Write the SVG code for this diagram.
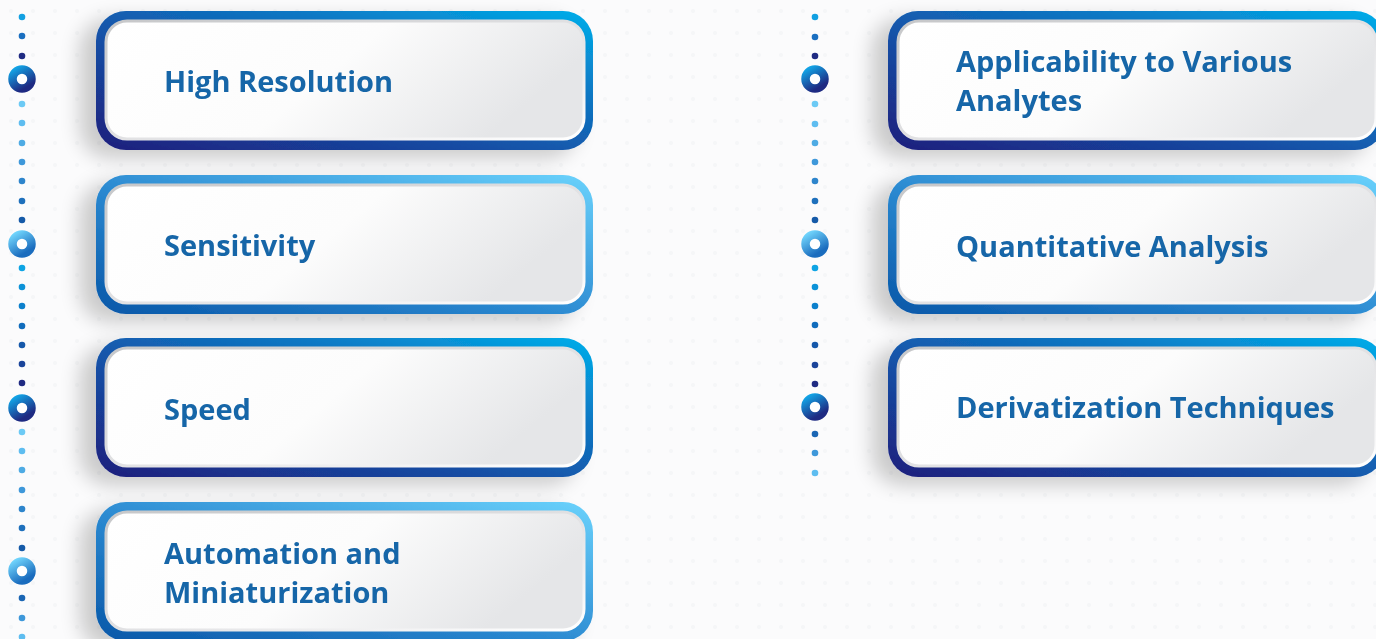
<svg xmlns="http://www.w3.org/2000/svg" width="1376" height="639" viewBox="0 0 1376 639">
  <defs>
    <style>
      .label { font-family: "Open Sans", "Liberation Sans", sans-serif; font-weight: 700; font-size: 29px; fill: #1766a8; }
      .panel { fill: url(#panelFill); stroke: url(#rimStroke); stroke-width: 3; }
      .dot { stroke: none; }
      .ring { fill: #ffffff; stroke-width: 8.5; }
    </style>
    <pattern id="grid" width="22" height="22" patternUnits="userSpaceOnUse">
      <circle cx="11" cy="11" r="2" fill="#f5f6f7"/>
    </pattern>
    <linearGradient id="frameDeep" x1="0" y1="1" x2="1" y2="0">
      <stop offset="0" stop-color="#1c1f7c"/>
      <stop offset="0.35" stop-color="#1848a0"/>
      <stop offset="0.7" stop-color="#0d78c4"/>
      <stop offset="1" stop-color="#00aeea"/>
    </linearGradient>
    <linearGradient id="frameLight" x1="0" y1="1" x2="1" y2="0">
      <stop offset="0" stop-color="#0857a8"/>
      <stop offset="0.45" stop-color="#2a88d0"/>
      <stop offset="1" stop-color="#6ad2fc"/>
    </linearGradient>
    <linearGradient id="panelFill" x1="0" y1="0" x2="1" y2="0.3">
      <stop offset="0" stop-color="#ffffff"/>
      <stop offset="0.55" stop-color="#fcfcfc"/>
      <stop offset="1" stop-color="#e5e6e8"/>
    </linearGradient>
    <linearGradient id="rimStroke" x1="0" y1="0" x2="1" y2="1">
      <stop offset="0" stop-color="#c6c7c9"/>
      <stop offset="0.6" stop-color="#e6e6e8"/>
      <stop offset="1" stop-color="#ffffff"/>
    </linearGradient>
    <linearGradient id="ringDeep" x1="0" y1="0" x2="0.6" y2="1">
      <stop offset="0" stop-color="#12a4e6"/>
      <stop offset="1" stop-color="#1e2a82"/>
    </linearGradient>
    <linearGradient id="ringLight" x1="0" y1="0" x2="0.6" y2="1">
      <stop offset="0" stop-color="#70d4fc"/>
      <stop offset="1" stop-color="#1a6cbe"/>
    </linearGradient>
    <filter id="shade" x="-10%" y="-30%" width="120%" height="160%">
      <feGaussianBlur in="SourceAlpha" stdDeviation="10"/>
      <feOffset dx="-16" dy="8" result="b"/>
      <feComponentTransfer>
        <feFuncA type="linear" slope="0.2"/>
      </feComponentTransfer>
      <feMerge>
        <feMergeNode/>
        <feMergeNode in="SourceGraphic"/>
      </feMerge>
    </filter>
  </defs>

  <!-- background -->
  <rect width="1376" height="639" fill="#fbfbfc"/>
  <rect width="1376" height="639" fill="url(#grid)"/>

  <!-- dotted timelines with rings -->
  <g id="connectors">
    <g id="timeline-left">
      <circle class="dot" cx="22" cy="17" r="3.3" fill="#12a0e2"/>
      <circle class="dot" cx="22" cy="36" r="3.3" fill="#1a6fc0"/>
      <circle class="dot" cx="22" cy="56" r="3.3" fill="#1f2a82"/>
      <circle class="ring" cx="22" cy="79" r="9.5" stroke="url(#ringDeep)"/>
      <circle class="dot" cx="22" cy="104" r="3.3" fill="#6ccaf5"/>
      <circle class="dot" cx="22" cy="123" r="3.3" fill="#5ebdf0"/>
      <circle class="dot" cx="22" cy="143" r="3.3" fill="#4eabe4"/>
      <circle class="dot" cx="22" cy="162" r="3.3" fill="#3e98da"/>
      <circle class="dot" cx="22" cy="181" r="3.3" fill="#2e85cc"/>
      <circle class="dot" cx="22" cy="201" r="3.3" fill="#1e70bc"/>
      <circle class="dot" cx="22" cy="220" r="3.3" fill="#155aa8"/>
      <circle class="ring" cx="22" cy="244" r="9.5" stroke="url(#ringLight)"/>
      <circle class="dot" cx="22" cy="268" r="3.3" fill="#0ea4e4"/>
      <circle class="dot" cx="22" cy="287" r="3.3" fill="#0c92d8"/>
      <circle class="dot" cx="22" cy="306" r="3.3" fill="#0c80cc"/>
      <circle class="dot" cx="22" cy="326" r="3.3" fill="#106cbc"/>
      <circle class="dot" cx="22" cy="345" r="3.3" fill="#1558aa"/>
      <circle class="dot" cx="22" cy="364" r="3.3" fill="#1a449a"/>
      <circle class="dot" cx="22" cy="383" r="3.3" fill="#1f2a82"/>
      <circle class="ring" cx="22" cy="408" r="9.5" stroke="url(#ringDeep)"/>
      <circle class="dot" cx="22" cy="432" r="3.3" fill="#6ccaf5"/>
      <circle class="dot" cx="22" cy="451" r="3.3" fill="#5ebdf0"/>
      <circle class="dot" cx="22" cy="470" r="3.3" fill="#4eabe4"/>
      <circle class="dot" cx="22" cy="490" r="3.3" fill="#3e98da"/>
      <circle class="dot" cx="22" cy="509" r="3.3" fill="#2e85cc"/>
      <circle class="dot" cx="22" cy="528" r="3.3" fill="#1e70bc"/>
      <circle class="dot" cx="22" cy="548" r="3.3" fill="#155aa8"/>
      <circle class="ring" cx="22" cy="571" r="9.5" stroke="url(#ringLight)"/>
      <circle class="dot" cx="22" cy="598" r="3.3" fill="#1a66b4"/>
      <circle class="dot" cx="22" cy="618" r="3.3" fill="#3e98da"/>
      <circle class="dot" cx="22" cy="637" r="3.3" fill="#5ebdf0"/>
    </g>
    <g id="timeline-right">
      <circle class="dot" cx="815" cy="17" r="3.3" fill="#12a0e2"/>
      <circle class="dot" cx="815" cy="37" r="3.3" fill="#1a6fc0"/>
      <circle class="dot" cx="815" cy="56" r="3.3" fill="#1f2a82"/>
      <circle class="ring" cx="815" cy="79" r="9.5" stroke="url(#ringDeep)"/>
      <circle class="dot" cx="815" cy="104" r="3.3" fill="#6ccaf5"/>
      <circle class="dot" cx="815" cy="124" r="3.3" fill="#5ebdf0"/>
      <circle class="dot" cx="815" cy="143" r="3.3" fill="#4eabe4"/>
      <circle class="dot" cx="815" cy="162" r="3.3" fill="#3e98da"/>
      <circle class="dot" cx="815" cy="181" r="3.3" fill="#2e85cc"/>
      <circle class="dot" cx="815" cy="201" r="3.3" fill="#1e70bc"/>
      <circle class="dot" cx="815" cy="220" r="3.3" fill="#155aa8"/>
      <circle class="ring" cx="815" cy="244" r="9.5" stroke="url(#ringLight)"/>
      <circle class="dot" cx="815" cy="268" r="3.3" fill="#0ea4e4"/>
      <circle class="dot" cx="815" cy="287" r="3.3" fill="#0c92d8"/>
      <circle class="dot" cx="815" cy="306" r="3.3" fill="#0c80cc"/>
      <circle class="dot" cx="815" cy="325" r="3.3" fill="#106cbc"/>
      <circle class="dot" cx="815" cy="345" r="3.3" fill="#1558aa"/>
      <circle class="dot" cx="815" cy="365" r="3.3" fill="#1a449a"/>
      <circle class="dot" cx="815" cy="384" r="3.3" fill="#1f2a82"/>
      <circle class="ring" cx="815" cy="407" r="9.5" stroke="url(#ringDeep)"/>
      <circle class="dot" cx="815" cy="434" r="3.3" fill="#1a66b4"/>
      <circle class="dot" cx="815" cy="453" r="3.3" fill="#3e98da"/>
      <circle class="dot" cx="815" cy="473" r="3.3" fill="#5ebdf0"/>
    </g>
  </g>

  <!-- left column cards -->
  <g id="node-high-resolution" filter="url(#shade)">
    <rect x="96" y="11" width="497" height="139" rx="30" fill="url(#frameDeep)"/>
    <rect class="panel" x="106" y="21" width="478" height="118" rx="21"/>
    <text class="label" x="164" y="92">High Resolution</text>
  </g>
  <g id="node-sensitivity" filter="url(#shade)">
    <rect x="96" y="175" width="497" height="139" rx="30" fill="url(#frameLight)"/>
    <rect class="panel" x="106" y="185" width="478" height="118" rx="21"/>
    <text class="label" x="164" y="256">Sensitivity</text>
  </g>
  <g id="node-speed" filter="url(#shade)">
    <rect x="96" y="338" width="497" height="139" rx="30" fill="url(#frameDeep)"/>
    <rect class="panel" x="106" y="348" width="478" height="118" rx="21"/>
    <text class="label" x="164" y="420">Speed</text>
  </g>
  <g id="node-automation" filter="url(#shade)">
    <rect x="96" y="502" width="497" height="139" rx="30" fill="url(#frameLight)"/>
    <rect class="panel" x="106" y="512" width="478" height="118" rx="21"/>
    <text class="label" x="164" y="564">Automation and</text>
    <text class="label" x="164" y="603">Miniaturization</text>
  </g>

  <!-- right column cards -->
  <g id="node-applicability" filter="url(#shade)">
    <rect x="888" y="11" width="497" height="139" rx="30" fill="url(#frameDeep)"/>
    <rect class="panel" x="898" y="21" width="478" height="118" rx="21"/>
    <text class="label" x="956" y="72">Applicability to Various</text>
    <text class="label" x="956" y="111">Analytes</text>
  </g>
  <g id="node-quantitative" filter="url(#shade)">
    <rect x="888" y="175" width="497" height="139" rx="30" fill="url(#frameLight)"/>
    <rect class="panel" x="898" y="185" width="478" height="118" rx="21"/>
    <text class="label" x="956" y="257">Quantitative Analysis</text>
  </g>
  <g id="node-derivatization" filter="url(#shade)">
    <rect x="888" y="338" width="497" height="139" rx="30" fill="url(#frameDeep)"/>
    <rect class="panel" x="898" y="348" width="478" height="118" rx="21"/>
    <text class="label" x="956" y="418">Derivatization Techniques</text>
  </g>
</svg>
